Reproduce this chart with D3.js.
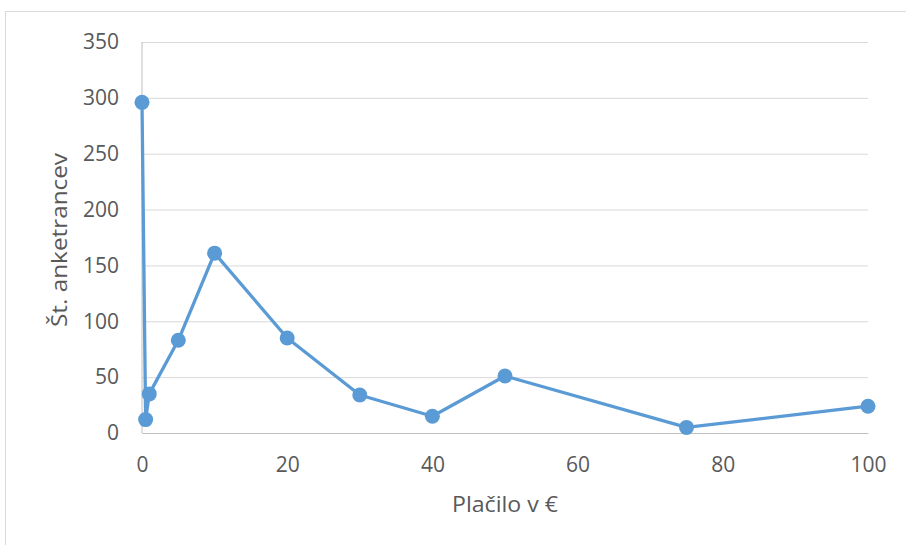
<!DOCTYPE html>
<html><head><meta charset="utf-8">
<script src="https://cdn.jsdelivr.net/npm/d3@7"></script>
<style>body{margin:0;background:#fff;} svg{display:block;}</style>
</head><body>
<script>
const xValues = [0, 0.5, 1, 5, 10, 20, 30, 40, 50, 75, 100];
const yValues = [296, 12, 35, 83, 161, 85, 34, 15, 51, 5, 24];
const xTicks = [0, 20, 40, 60, 80, 100];
const yTicks = [0, 50, 100, 150, 200, 250, 300, 350];
const xTitle = "Plačilo v €";
const yTitle = "Št. anketrancev";

const W = 906, H = 545;
const svg = d3.select("body").append("svg").attr("width", W).attr("height", H);
svg.append("rect").attr("x", 5.5).attr("y", 11.5).attr("width", W + 10).attr("height", H + 10)
  .attr("fill", "#fff").attr("stroke", "#d9d9d9").attr("stroke-width", 1);

const x = d3.scaleLinear().domain([0, 100]).range([142, 868]);
const y = d3.scaleLinear().domain([0, 350]).range([433, 42]);
const font = "'Open Sans', 'Noto Sans', sans-serif";

const gy = svg.append("g").attr("transform", `translate(${x(0)},0)`)
  .call(d3.axisLeft(y).tickValues(yTicks).tickSize(-(x(100) - x(0))).tickPadding(23));
gy.select(".domain").remove();
gy.selectAll(".tick line").attr("stroke", "#d9d9d9").attr("stroke-width", 1);
gy.selectAll(".tick text").attr("fill", "#595959").style("font-family", font).style("font-size", "21px");

const gx = svg.append("g").attr("transform", `translate(0,${y(0)})`)
  .call(d3.axisBottom(x).tickValues(xTicks).tickSize(0).tickPadding(24));
gx.select(".domain").attr("stroke", "#bfbfbf");
gx.selectAll(".tick text").attr("fill", "#595959").style("font-family", font).style("font-size", "21px");

svg.append("line").attr("x1", x(0)).attr("x2", x(0)).attr("y1", y(0)).attr("y2", y(350))
  .attr("stroke", "#bfbfbf");

const pts = xValues.map((v, i) => [v, yValues[i]]);
svg.append("path").datum(pts)
  .attr("d", d3.line().x(d => x(d[0])).y(d => y(d[1])))
  .attr("fill", "none").attr("stroke", "#5B9BD5").attr("stroke-width", 3.3).attr("stroke-linejoin", "round");
svg.selectAll("circle.pt").data(pts).join("circle").attr("class", "pt")
  .attr("cx", d => x(d[0])).attr("cy", d => y(d[1])).attr("r", 7.5).attr("fill", "#5B9BD5");

svg.append("text").attr("x", 505).attr("y", 512).attr("text-anchor", "middle")
  .attr("textLength", 106).attr("lengthAdjust", "spacingAndGlyphs")
  .attr("fill", "#595959").style("font-family", font).style("font-size", "22px").text(xTitle);
svg.append("text").attr("transform", `translate(67,240) rotate(-90)`).attr("text-anchor", "middle")
  .attr("textLength", 174).attr("lengthAdjust", "spacingAndGlyphs")
  .attr("fill", "#595959").style("font-family", font).style("font-size", "22px").text(yTitle);
</script>
</body></html>
